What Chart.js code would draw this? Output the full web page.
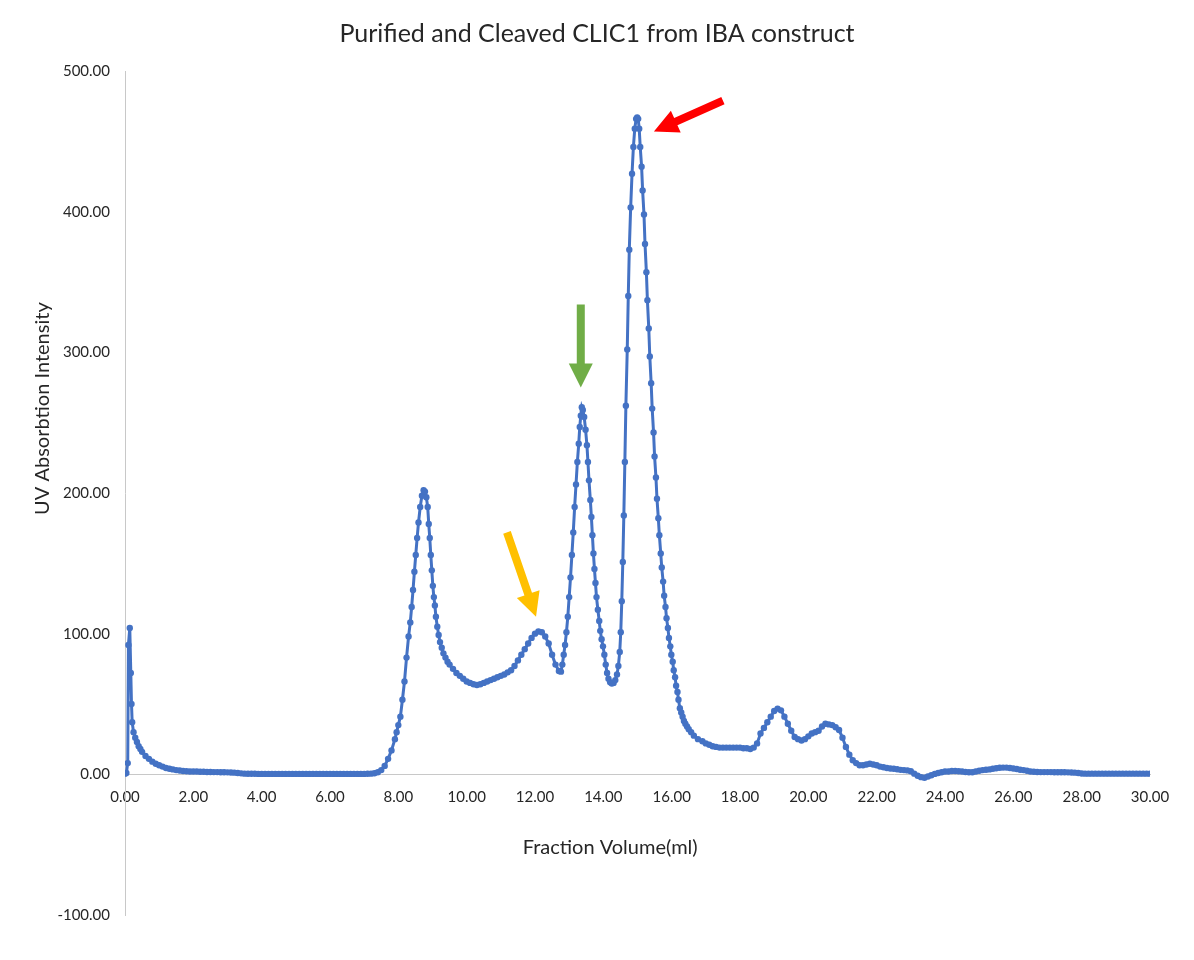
<!DOCTYPE html>
<html lang="en">
<head>
<meta charset="UTF-8">
<title>Purified and Cleaved CLIC1 from IBA construct</title>
<script src="https://cdn.jsdelivr.net/npm/chart.js"></script>
<style>
  body { margin: 0; background: #fff; }
  #wrap { width: 1194px; height: 960px; }
</style>
</head>
<body>
<div id="wrap"><canvas id="uvChart" width="1194" height="960"></canvas></div>
<script>
// fraction volume (ml) and UV reading
const volume = [
  0.00, 0.04, 0.08, 0.10, 0.14, 0.17, 0.19, 0.21, 0.25, 0.30, 0.35, 0.40, 0.45, 0.50,
  0.6, 0.7, 0.8, 0.9, 1.0, 1.1, 1.2, 1.3, 1.4, 1.5, 1.6, 1.7, 1.8, 1.9, 2.0,
  2.1, 2.2, 2.3, 2.4, 2.5, 2.6, 2.7, 2.8, 2.9, 3.0, 3.1, 3.2, 3.3, 3.4, 3.5,
  3.6, 3.7, 3.8, 3.9, 4.0, 4.1, 4.2, 4.3, 4.4, 4.5, 4.6, 4.7, 4.8, 4.9, 5.0,
  5.1, 5.2, 5.3, 5.4, 5.5, 5.6, 5.7, 5.8, 5.9, 6.0, 6.1, 6.2, 6.3, 6.4, 6.5,
  6.6, 6.7, 6.8, 6.9, 7.0,
  7.1, 7.2, 7.3, 7.4, 7.5, 7.6, 7.7, 7.8, 7.9, 7.95, 8.00,
  8.06, 8.12, 8.18, 8.24, 8.30, 8.35, 8.39, 8.43, 8.47, 8.51, 8.55, 8.59, 8.64, 8.69, 8.74,
  8.78, 8.82, 8.86, 8.89, 8.92, 8.95, 8.98, 9.01, 9.04, 9.07, 9.10, 9.14, 9.18, 9.22, 9.27, 9.32, 9.38, 9.44,
  9.5, 9.6, 9.7, 9.8, 9.9, 10.0, 10.1, 10.2, 10.3, 10.4, 10.5, 10.6, 10.7, 10.8, 10.9,
  11.0, 11.1, 11.2, 11.3, 11.4, 11.5, 11.6, 11.7, 11.8, 11.9, 12.0, 12.1, 12.2, 12.3, 12.4,
  12.5, 12.6, 12.7,
  12.76, 12.80, 12.84, 12.88, 12.92, 12.96, 13.00, 13.04, 13.08, 13.12, 13.16, 13.20, 13.24, 13.28, 13.31, 13.34, 13.37,
  13.40, 13.44, 13.48, 13.52, 13.55, 13.58, 13.62, 13.65, 13.68, 13.71, 13.74, 13.77, 13.80, 13.84, 13.88,
  13.91, 13.95, 13.99, 14.03, 14.07, 14.11, 14.15, 14.20, 14.25, 14.30, 14.35, 14.40, 14.44, 14.48,
  14.51, 14.54, 14.57, 14.60, 14.63, 14.66, 14.70, 14.73, 14.76, 14.80, 14.84, 14.88, 14.92, 14.96, 14.99,
  15.02, 15.05, 15.08, 15.12, 15.15, 15.19, 15.22, 15.26, 15.29, 15.33, 15.36, 15.40, 15.43, 15.47, 15.50,
  15.54, 15.57, 15.61, 15.64, 15.68, 15.71, 15.75, 15.78, 15.82, 15.85, 15.89, 15.92, 15.96, 15.99, 16.03,
  16.06, 16.10, 16.13, 16.17, 16.20, 16.24,
  16.28, 16.32, 16.36, 16.40, 16.45, 16.50, 16.57, 16.65, 16.77, 16.9, 17.0, 17.1, 17.2, 17.3, 17.4,
  17.5, 17.6, 17.7, 17.8, 17.9, 18.0, 18.1, 18.2, 18.3,
  18.4, 18.5, 18.6, 18.7, 18.8, 18.9, 19.0, 19.1, 19.2, 19.3, 19.4, 19.5, 19.6, 19.7, 19.8, 19.9,
  20.0, 20.1, 20.2, 20.3, 20.4, 20.5, 20.6, 20.7, 20.8, 20.9, 21.0, 21.1, 21.2, 21.3, 21.4, 21.5,
  21.6, 21.7, 21.8, 21.9, 22.0, 22.1, 22.2, 22.3, 22.4, 22.5, 22.6, 22.7, 22.8, 22.9, 23.0,
  23.1, 23.2, 23.3, 23.4, 23.5, 23.6, 23.7, 23.8, 23.9, 24.0, 24.1, 24.2, 24.3, 24.4, 24.5,
  24.6, 24.7, 24.8, 24.9, 25.0, 25.1, 25.2, 25.3, 25.4, 25.5, 25.6, 25.7, 25.8, 25.9, 26.0,
  26.1, 26.2, 26.3, 26.4, 26.5, 26.6, 26.7, 26.8, 26.9, 27.0, 27.1, 27.2, 27.3, 27.4, 27.5,
  27.6, 27.7, 27.8, 27.9, 28.0,
  28.1, 28.2, 28.3, 28.4, 28.5, 28.6, 28.7, 28.8, 28.9, 29.0,
  29.1, 29.2, 29.3, 29.4, 29.5, 29.6, 29.7, 29.8, 29.9, 30.0
];
const absorbance = [
  0.5, 1, 8, 92, 104, 72, 50, 37, 30, 26, 23, 20, 18, 16,
  13, 11, 9, 7.5, 6.5, 5.5, 4.5, 4, 3.5, 3, 2.7, 2.4, 2.2, 2, 2,
  2, 1.8, 1.8, 1.7, 1.7, 1.6, 1.6, 1.5, 1.5, 1.4, 1.3, 1.2, 1.0, 0.7, 0.5,
  0.4, 0.4, 0.4, 0.3, 0.3, 0.3, 0.3, 0.3, 0.3, 0.3, 0.3, 0.3, 0.3, 0.3, 0.3,
  0.3, 0.3, 0.3, 0.3, 0.3, 0.3, 0.3, 0.3, 0.3, 0.3, 0.3, 0.3, 0.3, 0.3, 0.3,
  0.3, 0.3, 0.3, 0.3, 0.3,
  0.4, 0.5, 0.8, 1.5, 3, 6, 11, 17, 25, 30, 35,
  41, 53, 66, 83, 98, 108, 119, 131, 144, 156, 168, 179, 190, 198, 202,
  201, 197, 190, 178, 168, 156, 145, 134, 126, 120, 112, 105, 99, 94, 90, 86, 83, 80,
  78, 75, 72, 70, 68, 66, 65, 64, 63.5, 64, 65, 66, 67, 68, 69,
  70, 71, 72.5, 74, 77, 81, 85, 89, 93, 97, 100, 101.5, 101, 98, 93,
  85, 78, 73.5,
  73, 78, 85, 92, 101, 112, 126, 140, 156, 172, 190, 206, 222, 235, 247, 255, 261,
  259, 254, 245, 234, 222, 209, 195, 183, 170, 157, 146, 136, 126, 117, 109,
  102, 96, 91, 85, 78, 72, 68, 65.5, 64.5, 65, 67, 71, 77, 87,
  101, 123, 151, 184, 222, 262, 302, 340, 373, 403, 427, 446, 459, 466, 467,
  466, 459, 446, 432, 415, 398, 377, 357, 337, 317, 297, 278, 260, 243, 226,
  211, 196, 182, 170, 157, 147, 137, 127, 119, 111, 104, 97, 91, 85, 80,
  74, 69, 63, 58.5, 53, 47,
  44, 41, 38, 36, 34, 32, 30, 27.5, 25, 23.5, 22, 21, 20, 19.5, 19,
  19, 19, 19, 19, 19, 19, 18.5, 18.5, 18,
  19, 22, 29, 33, 37, 41, 45, 46.7, 45.5, 41, 36, 31, 26.5, 25, 24, 25,
  27, 29, 30, 31, 34, 36, 35.5, 35, 33.5, 31.5, 26, 19.5, 14, 10, 8, 6.5,
  6.5, 7, 7.5, 7, 6.5, 5.5, 5, 4.5, 4.2, 4, 3.6, 3.2, 3, 2.8, 2.2,
  0.5, -1, -2, -2.4, -1.5, -0.7, 0.3, 1, 1.5, 2, 2, 2.4, 2.4, 2.2, 2,
  1.7, 1.5, 1.5, 2, 2.5, 3, 3.3, 3.5, 4, 4.3, 4.7, 4.8, 4.8, 4.5, 4.2,
  3.8, 3.3, 3, 2.5, 2, 1.8, 1.7, 1.6, 1.6, 1.6, 1.6, 1.5, 1.5, 1.5, 1.5,
  1.4, 1.3, 1.2, 0.9, 0.6,
  0.5, 0.5, 0.5, 0.5, 0.5, 0.5, 0.5, 0.5, 0.5, 0.5,
  0.5, 0.5, 0.5, 0.5, 0.5, 0.5, 0.5, 0.5, 0.5, 0.5
];

// axis ranges
const xMin = 0, xMax = 30, xStep = 2;
const yMin = -100, yMax = 500, yStep = 100;

// arrows pointing at the peaks, tail -> tip in data units
const arrows = [
  { color: '#ffc000', from: [11.18, 172], to: [12.03, 112] },
  { color: '#70ad47', from: [13.34, 334], to: [13.34, 275] },
  { color: '#ff0000', from: [17.50, 479], to: [15.48, 457] }
];

const TITLE = 'Purified and Cleaved CLIC1 from IBA construct';
const FONT = 'Lato, "Open Sans", sans-serif';
const TEXT = '#262626';
const AXIS = '#c8c8c8';

function drawArrow(ctx, x0, y0, x1, y1, color) {
  const dx = x1 - x0, dy = y1 - y0;
  const len = Math.hypot(dx, dy);
  const ux = dx / len, uy = dy / len;
  const nx = -uy, ny = ux;
  const head = 24, headHalf = 12, shaftHalf = 4;
  const bx = x1 - ux * head, by = y1 - uy * head;
  ctx.beginPath();
  ctx.moveTo(x0 + nx * shaftHalf, y0 + ny * shaftHalf);
  ctx.lineTo(bx + nx * shaftHalf, by + ny * shaftHalf);
  ctx.lineTo(bx + nx * headHalf, by + ny * headHalf);
  ctx.lineTo(x1, y1);
  ctx.lineTo(bx - nx * headHalf, by - ny * headHalf);
  ctx.lineTo(bx - nx * shaftHalf, by - ny * shaftHalf);
  ctx.lineTo(x0 - nx * shaftHalf, y0 - ny * shaftHalf);
  ctx.closePath();
  ctx.fillStyle = color;
  ctx.fill();
}

// chart title, axis titles and arrows
const extras = {
  id: 'extras',
  afterDraw(chart) {
    const ctx = chart.ctx;
    const xs = chart.scales.x, ys = chart.scales.y;
    ctx.save();
    ctx.fillStyle = TEXT;
    ctx.textAlign = 'center';
    ctx.textBaseline = 'middle';
    ctx.font = '25px ' + FONT;
    ctx.fillText(TITLE, chart.width / 2, 34);
    ctx.font = '20px ' + FONT;
    ctx.fillText('Fraction Volume(ml)', xs.getPixelForValue(14.2), ys.getPixelForValue(-52));
    ctx.translate(43, ys.getPixelForValue(260));
    ctx.rotate(-Math.PI / 2);
    ctx.fillText('UV Absorbtion Intensity', 0, 0);
    ctx.restore();

    ctx.save();
    arrows.forEach(a => {
      drawArrow(ctx,
        xs.getPixelForValue(a.from[0]), ys.getPixelForValue(a.from[1]),
        xs.getPixelForValue(a.to[0]), ys.getPixelForValue(a.to[1]),
        a.color);
    });
    ctx.restore();
  }
};

const points = volume.map((v, i) => ({ x: v, y: absorbance[i] }));

const ctx = document.getElementById('uvChart').getContext('2d');
new Chart(ctx, {
  type: 'line',
  data: {
    datasets: [{
      data: points,
      borderColor: '#4472c4',
      backgroundColor: '#4472c4',
      borderWidth: 3,
      pointRadius: 3.2,
      pointBorderWidth: 0,
      pointBackgroundColor: '#4472c4',
      tension: 0,
      fill: false
    }]
  },
  options: {
    responsive: false,
    animation: false,
    layout: { padding: { left: 0, right: 44, top: 71, bottom: 45 } },
    plugins: {
      legend: { display: false },
      tooltip: { enabled: false },
      title: { display: false }
    },
    scales: {
      x: {
        type: 'linear',
        position: { y: 0 },
        min: xMin,
        max: xMax,
        ticks: {
          stepSize: xStep,
          autoSkip: false,
          maxRotation: 0,
          padding: 14,
          color: TEXT,
          font: { family: FONT, size: 15 },
          callback: v => v.toFixed(2)
        },
        grid: { display: false, drawTicks: false },
        border: { color: AXIS, width: 1 }
      },
      y: {
        min: yMin,
        max: yMax,
        ticks: {
          stepSize: yStep,
          padding: 15,
          color: TEXT,
          font: { family: FONT, size: 15 },
          callback: v => v.toFixed(2)
        },
        grid: { display: false, drawTicks: false },
        border: { color: AXIS, width: 1 },
        afterFit(scale) { scale.width = 125; }
      }
    }
  },
  plugins: [extras]
});
</script>
</body>
</html>
